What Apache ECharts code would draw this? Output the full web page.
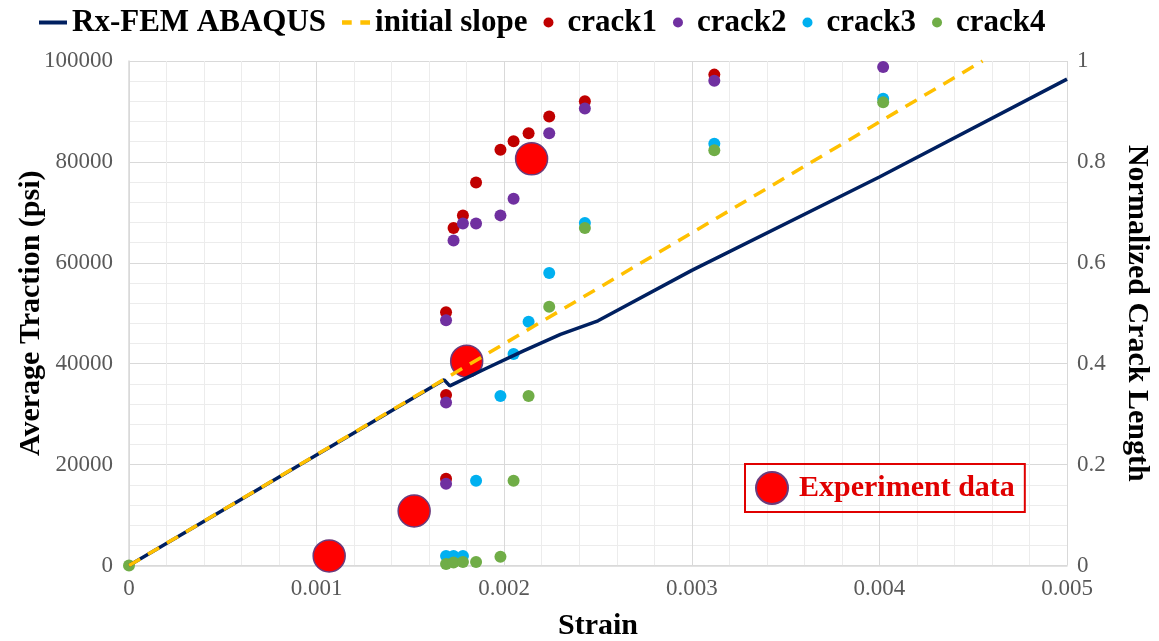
<!DOCTYPE html>
<html>
<head>
<meta charset="utf-8">
<script src="https://cdn.jsdelivr.net/npm/echarts@6/dist/echarts.min.js"></script>
<style>
  html, body { margin: 0; padding: 0; background: #fff; }
  #chart { width: 1159px; height: 641px; }
</style>
</head>
<body>
<div id="chart"></div>
<script>
// Rx-FEM result vs. initial elastic slope, with crack growth and test points
const femCurve = [
  [0, 0], [0.00168, 36800], [0.00171, 35600], [0.0019, 39000], [0.0021, 42500],
  [0.0023, 45800], [0.0025, 48500], [0.003, 58500], [0.004, 77000], [0.005, 96400]
];
const initialSlope = [[0, 0], [0.00455, 100000]];

// Normalized crack length vs. strain
const crack1 = [
  [0.00169, 0.172], [0.00169, 0.338], [0.00169, 0.502], [0.00173, 0.669],
  [0.00178, 0.694], [0.00185, 0.759], [0.00198, 0.824], [0.00205, 0.841],
  [0.00213, 0.857], [0.00224, 0.89], [0.00243, 0.92], [0.00312, 0.973]
];
const crack2 = [
  [0.00169, 0.162], [0.00169, 0.323], [0.00169, 0.486], [0.00173, 0.644],
  [0.00178, 0.678], [0.00185, 0.678], [0.00198, 0.694], [0.00205, 0.727],
  [0.00224, 0.857], [0.00243, 0.906], [0.00312, 0.961], [0.00402, 0.988]
];
const crack3 = [
  [0.00169, 0.019], [0.00173, 0.019], [0.00178, 0.019], [0.00185, 0.168],
  [0.00198, 0.336], [0.00205, 0.419], [0.00213, 0.483], [0.00224, 0.58],
  [0.00243, 0.679], [0.00312, 0.836], [0.00402, 0.925]
];
const crack4 = [
  [0, 0], [0.00169, 0.003], [0.00173, 0.006], [0.00178, 0.007], [0.00185, 0.007],
  [0.00198, 0.0175], [0.00205, 0.168], [0.00213, 0.336], [0.00224, 0.513],
  [0.00243, 0.669], [0.00312, 0.823], [0.00402, 0.918]
];

// Measured average traction (psi) vs. strain
const experiment = [[0.001067, 1900], [0.00152, 10800], [0.0018, 40500], [0.002146, 80600]];

const SERIF = '"Liberation Serif", "Times New Roman", serif';
const tickText = { fontFamily: SERIF, fontSize: 23, color: '#595959' };
const titleText = { fontFamily: SERIF, fontSize: 30, fontWeight: 'bold', color: '#000' };
const majorGrid = { show: true, lineStyle: { color: '#d9d9d9', width: 1 } };
const minorGrid = { show: true, lineStyle: { color: '#ececec', width: 1 } };

// legend glyphs: plain bar for the FEM curve, two short dashes for the slope
const solidIcon = 'path://M0,0H28V4H0Z';
const dashIcon = 'path://M0,0H9V4H0Z M17,0H26V4H17Z';

const chart = echarts.init(document.getElementById('chart'), null, { renderer: 'canvas' });

chart.setOption({
  animation: false,
  backgroundColor: '#ffffff',
  grid: {
    left: 129, right: 92, top: 61, bottom: 75.5,
    containLabel: false, outerBoundsMode: 'none'
  },
  legend: [
    {
      left: 34, top: 2,
      itemWidth: 28, itemHeight: 10, itemGap: 16,
      textStyle: { ...titleText, fontSize: 31 },
      data: [
        { name: 'Rx-FEM ABAQUS', icon: solidIcon },
        { name: 'initial slope', icon: dashIcon },
        'crack1', 'crack2', 'crack3', 'crack4'
      ]
    },
    {
      left: 745, top: 464,
      orient: 'horizontal',
      itemWidth: 32, itemHeight: 32,
      padding: [7, 10, 7, 10],
      borderColor: '#e00000', borderWidth: 2, borderRadius: 0,
      textStyle: { fontFamily: SERIF, fontSize: 30, fontWeight: 'bold', color: '#e00000', padding: [0, 0, 0, 6] },
      data: ['Experiment data']
    }
  ],
  xAxis: {
    type: 'value', min: 0, max: 0.005, interval: 0.001,
    name: 'Strain', nameLocation: 'middle', nameGap: 46, nameTextStyle: titleText,
    axisLine: { show: true, lineStyle: { color: '#d9d9d9', width: 1.5 } },
    axisTick: { show: false },
    axisLabel: { ...tickText, margin: 12, formatter: v => (v === 0 ? '0' : v.toFixed(3)) },
    splitLine: majorGrid,
    minorTick: { show: false, splitNumber: 5 },
    minorSplitLine: minorGrid
  },
  yAxis: [
    {
      type: 'value', min: 0, max: 100000, interval: 20000,
      name: 'Average Traction (psi)', nameLocation: 'middle', nameGap: 83,
      nameMoveOverlap: false, nameTextStyle: titleText,
      axisLine: { show: true, lineStyle: { color: '#d9d9d9', width: 1.5 } },
      axisTick: { show: false },
      axisLabel: { ...tickText, margin: 16, formatter: v => String(v) },
      splitLine: majorGrid,
      minorTick: { show: false, splitNumber: 5 },
      minorSplitLine: minorGrid
    },
    {
      type: 'value', min: 0, max: 1, interval: 0.2, position: 'right',
      name: 'Normalized Crack Length', nameLocation: 'middle', nameGap: 55, nameRotate: -90,
      nameTextStyle: titleText,
      axisLine: { show: false },
      axisTick: { show: false },
      axisLabel: { ...tickText, margin: 10, formatter: v => (v === 0 ? '0' : v === 1 ? '1' : v.toFixed(1)) },
      splitLine: { show: false }
    }
  ],
  series: [
    {
      name: 'Rx-FEM ABAQUS', type: 'line', data: femCurve, yAxisIndex: 0,
      showSymbol: false, symbol: 'none',
      lineStyle: { color: '#002060', width: 3.5 },
      itemStyle: { color: '#002060' }
    },
    {
      name: 'initial slope', type: 'line', data: initialSlope, yAxisIndex: 0,
      showSymbol: false, symbol: 'none',
      lineStyle: { color: '#ffc000', width: 3.5, type: [13, 9] },
      itemStyle: { color: '#ffc000' }
    },
    {
      name: 'Experiment data', type: 'scatter', data: experiment, yAxisIndex: 0,
      symbol: 'circle', symbolSize: 32,
      itemStyle: { color: '#ff0000', borderColor: '#6a3b7c', borderWidth: 1.5, opacity: 1 }
    },
    {
      name: 'crack1', type: 'scatter', data: crack1, yAxisIndex: 1,
      symbolSize: 12, itemStyle: { color: '#c00000', opacity: 1 }
    },
    {
      name: 'crack2', type: 'scatter', data: crack2, yAxisIndex: 1,
      symbolSize: 12, itemStyle: { color: '#7030a0', opacity: 1 }
    },
    {
      name: 'crack3', type: 'scatter', data: crack3, yAxisIndex: 1,
      symbolSize: 12, itemStyle: { color: '#00b0f0', opacity: 1 }
    },
    {
      name: 'crack4', type: 'scatter', data: crack4, yAxisIndex: 1,
      symbolSize: 12, itemStyle: { color: '#70ad47', opacity: 1 }
    }
  ]
});
</script>
</body>
</html>
